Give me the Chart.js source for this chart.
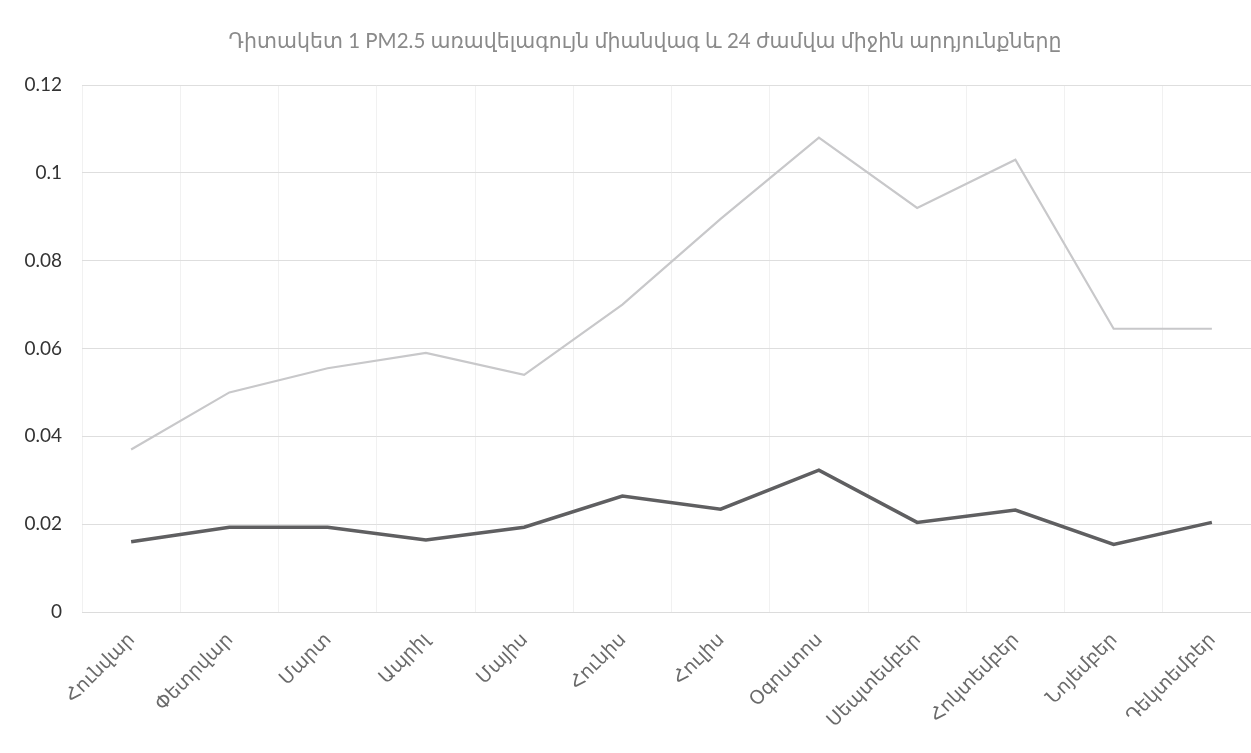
<!DOCTYPE html>
<html>
<head>
<meta charset="utf-8">
<script src="https://cdn.jsdelivr.net/npm/chart.js@4.4.1/dist/chart.umd.min.js"></script>
<style>
  html, body { margin: 0; padding: 0; background: #fff; overflow: hidden; }
  #wrap { width: 1266px; height: 753px; position: relative; }
</style>
</head>
<body>
<div id="wrap"><canvas id="pmChart"></canvas></div>
<script>
  // Months (Armenian)
  const months = [
    "Հունվար", "Փետրվար", "Մարտ", "Ապրիլ", "Մայիս", "Հունիս",
    "Հուլիս", "Օգոստոս", "Սեպտեմբեր", "Հոկտեմբեր", "Նոյեմբեր", "Դեկտեմբեր",
  ];

  // Maximum one-time concentration
  const maxValues = [0.037, 0.050, 0.0555, 0.059, 0.054, 0.070, 0.0895, 0.108, 0.092, 0.103, 0.0645, 0.0645];

  // 24-hour average
  const avgValues = [0.016, 0.0193, 0.0193, 0.0164, 0.0193, 0.0264, 0.0234, 0.0323, 0.0204, 0.0232, 0.0154, 0.0204];

  const yTicks = [0, 0.02, 0.04, 0.06, 0.08, 0.1, 0.12];

  const titleText = "Դիտակետ 1 PM2.5 առավելագույն միանվագ և 24 ժամվա միջին արդյունքները";

  const FONT = "Lato, 'DejaVu Sans', sans-serif";

  // The original title sits a little right of the canvas centre, so it is
  // drawn here instead of through the title plugin.
  const offsetTitle = {
    id: "offsetTitle",
    afterDraw(chart) {
      const c = chart.ctx;
      c.save();
      c.font = "20.5px " + FONT;
      c.fillStyle = "#8a8a8a";
      c.textAlign = "center";
      c.textBaseline = "middle";
      c.fillText(titleText, 645, 41);
      c.restore();
    },
  };

  const ctx = document.getElementById("pmChart");
  new Chart(ctx, {
    type: "line",
    data: {
      labels: months,
      datasets: [
        {
          label: "առավելագույն միանվագ",
          data: maxValues,
          borderColor: "#c8c8ca",
          borderWidth: 2.2,
          pointRadius: 0,
          tension: 0,
          fill: false,
        },
        {
          label: "24 ժամվա միջին",
          data: avgValues,
          borderColor: "#5f5f61",
          borderWidth: 3.5,
          pointRadius: 0,
          tension: 0,
          fill: false,
        },
      ],
    },
    options: {
      responsive: true,
      maintainAspectRatio: false,
      animation: false,
      layout: { padding: { top: 85, left: 0, right: 5, bottom: 6 } },
      plugins: {
        legend: { display: false },
        tooltip: { enabled: false },
        title: { display: false },
      },
      scales: {
        x: {
          offset: true,
          grid: { display: true, offset: true, color: "#f1f1f1", drawTicks: false },
          border: { display: true, color: "#dcdcdc" },
          ticks: {
            color: "#6a6a6a",
            font: { family: FONT, size: 19 },
            minRotation: 45,
            maxRotation: 45,
            padding: 16,
            autoSkip: false,
          },
          afterFit: (scale) => { scale.height = 135; },
        },
        y: {
          min: 0,
          max: 0.12,
          afterBuildTicks: (scale) => {
            scale.ticks = yTicks.map((v) => ({ value: v }));
          },
          grid: { color: "#dedede", drawTicks: false },
          border: { display: false },
          ticks: {
            color: "#333",
            font: { family: FONT, size: 19 },
            padding: 20,
            callback: (v) => String(Number(v.toFixed(2))),
          },
          afterFit: (scale) => { scale.width = 82; },
        },
      },
    },
    plugins: [offsetTitle],
  });
</script>
</body>
</html>
